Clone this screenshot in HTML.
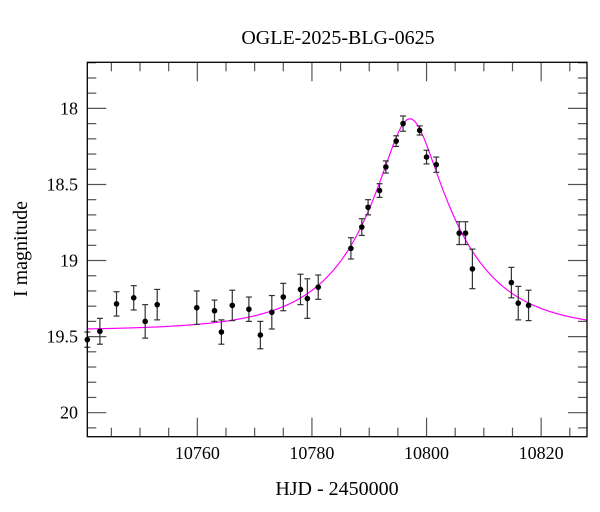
<!DOCTYPE html>
<html><head><meta charset="utf-8"><style>
body{margin:0;background:#fff;}
svg{display:block;font-family:"Liberation Serif","DejaVu Serif",serif;}
</style></head><body>
<svg id="chart" width="600" height="512" viewBox="0 0 600 512">
<text x="338" y="44" font-size="20" text-anchor="middle">OGLE-2025-BLG-0625</text>
<text x="337" y="495" font-size="20" text-anchor="middle">HJD - 2450000</text>
<text x="0" y="0" font-size="20" text-anchor="middle" transform="translate(27,249) rotate(-90)">I magnitude</text>
<g id="ticks"></g><g id="model"></g><g id="points"></g>
<rect x="87.3" y="62.3" width="499.7" height="374.4" fill="none" stroke="#000" stroke-width="1.3"/>
</svg>
<script>
const times=[10740.8,10743.0,10745.9,10748.9,10750.9,10753.0,10759.9,10763.0,10764.2,10766.1,10769.0,10771.0,10773.0,10775.0,10778.0,10779.2,10781.1,10786.8,10788.7,10789.8,10791.8,10792.9,10794.7,10795.9,10798.8,10800.0,10801.7,10805.7,10806.8,10808.0,10814.8,10816.0,10817.8];
const mags=[19.52,19.465,19.285,19.245,19.40,19.29,19.31,19.33,19.47,19.295,19.32,19.49,19.34,19.24,19.19,19.25,19.175,18.92,18.78,18.65,18.54,18.385,18.215,18.10,18.145,18.32,18.37,18.82,18.82,19.055,19.145,19.28,19.295];
const errs=[0.05,0.085,0.08,0.08,0.11,0.10,0.11,0.07,0.08,0.10,0.08,0.09,0.11,0.09,0.10,0.13,0.08,0.07,0.055,0.05,0.045,0.04,0.035,0.05,0.03,0.045,0.05,0.075,0.075,0.13,0.10,0.11,0.10];
const xTicks=[10760,10780,10800,10820];
const yTicks=[18,18.5,19,19.5,20];
const modelT0=10797.1, modelU0=0.286, modelTE=16, modelBase=19.46;
const X0=87.3,X1=587,Y0=62.3,Y1=436.7;
const xmin=10740.8,xmax=10828,ymin=17.697,ymax=20.158;
const sx=t=>X0+(t-xmin)/(xmax-xmin)*(X1-X0);
const sy=m=>Y0+(m-ymin)/(ymax-ymin)*(Y1-Y0);
const NS='http://www.w3.org/2000/svg';
function mk(tag,attrs,parent){const e=document.createElementNS(NS,tag);for(const k in attrs)e.setAttribute(k,attrs[k]);parent.appendChild(e);return e;}
const tg=document.getElementById('ticks');
for(let t=10745;t<=10825;t+=5){
  const major=xTicks.includes(t);const L=major?19:9;const x=sx(t);
  let l=mk('line',{x1:x,x2:x,y1:Y1,y2:Y1-L,stroke:'#555','stroke-width':1.2},tg);
  
  
  l=mk('line',{x1:x,x2:x,y1:Y0,y2:Y0+L,stroke:'#555','stroke-width':1.2},tg);
  
  
}
xTicks.forEach(t=>{const tx=mk('text',{x:sx(t),y:459,'font-size':18,'text-anchor':'middle'},tg);tx.textContent=t;
  
  });
for(let i=18;i<=201;i++){const m=i/10;if(m<ymin||m>ymax)continue;
  const major=i%5===0;const L=major?19:9;const y=sy(m);
  let l=mk('line',{x1:X0,x2:X0+L,y1:y,y2:y,stroke:'#555','stroke-width':1.2},tg);
  
  
  l=mk('line',{x1:X1,x2:X1-L,y1:y,y2:y,stroke:'#555','stroke-width':1.2},tg);
  
  }
yTicks.forEach(m=>{const tx=mk('text',{x:78,y:sy(m)+6,'font-size':18,'text-anchor':'end'},tg);tx.textContent=String(m);
  
  });
function A(u){return (u*u+2)/(u*Math.sqrt(u*u+4));}
let d='';
for(let i=0;i<=500;i++){const t=xmin+(xmax-xmin)*i/500;const tau=(t-modelT0)/modelTE;const u=Math.sqrt(modelU0*modelU0+tau*tau);
  const m=modelBase-2.5*Math.log10(A(u));d+=(i?'L':'M')+sx(t).toFixed(2)+','+sy(m).toFixed(2);}
const mp=mk('path',{d:d,fill:'none',stroke:'#ff00ff','stroke-width':1.2},document.getElementById('model'));


const pg=document.getElementById('points');
times.forEach((t,i)=>{const x=sx(t),y=sy(mags[i]),ya=sy(mags[i]-errs[i]),yb=sy(mags[i]+errs[i]);
  const g=mk('g',{stroke:'#333','stroke-width':1.2},pg);
  
  
  mk('line',{x1:x,x2:x,y1:ya,y2:yb},g);
  mk('line',{x1:x-3,x2:x+3,y1:ya,y2:ya},g);
  mk('line',{x1:x-3,x2:x+3,y1:yb,y2:yb},g);
  mk('circle',{cx:x,cy:y,r:2.8,fill:'#000',stroke:'none'},g);
});
</script>
</body></html>
